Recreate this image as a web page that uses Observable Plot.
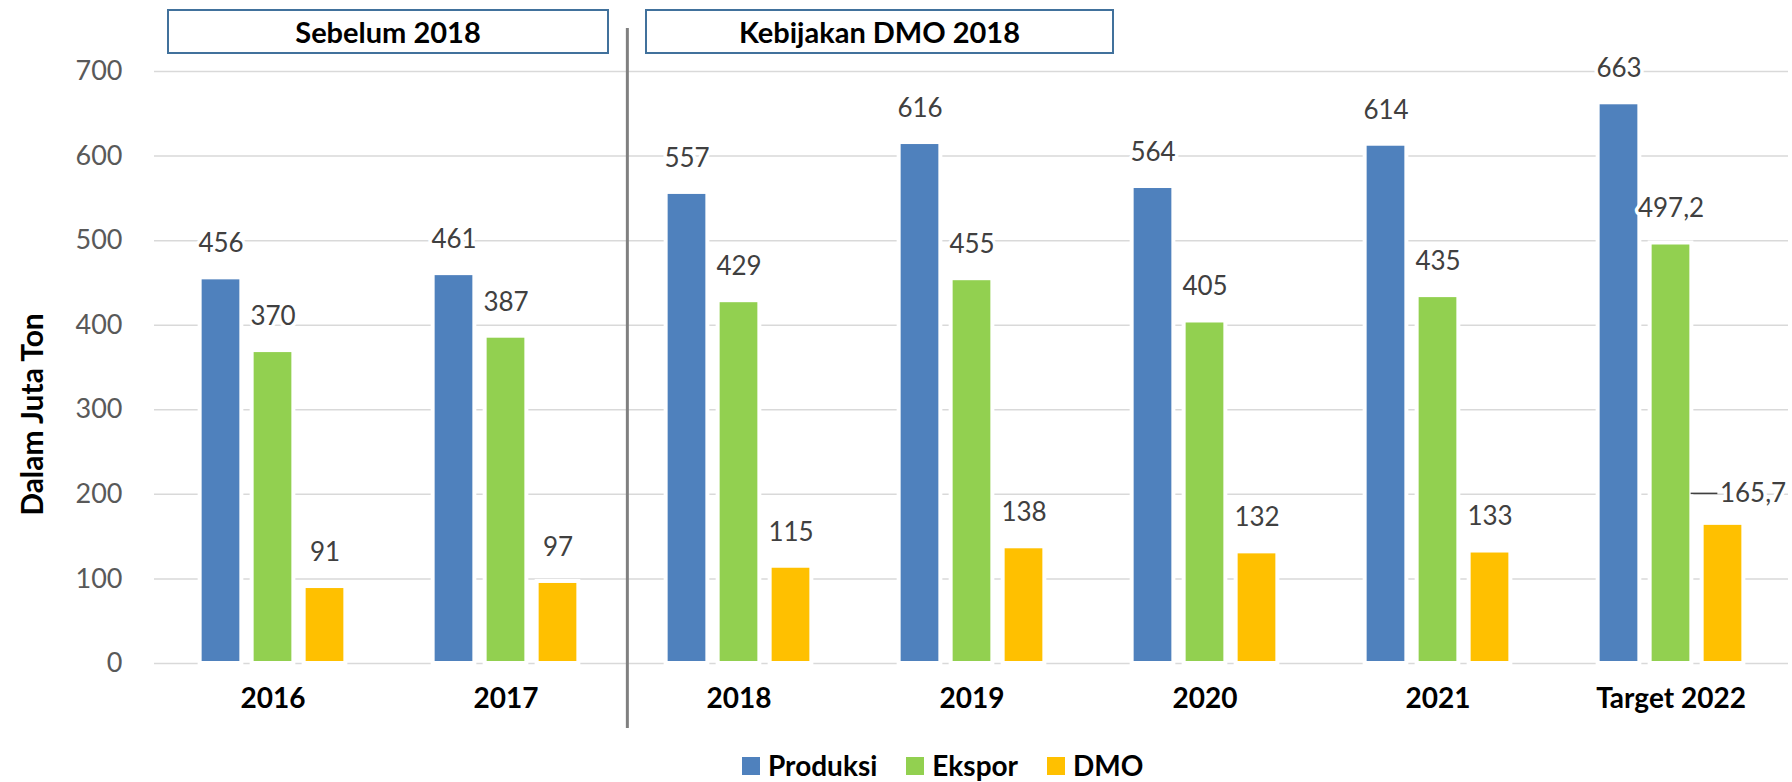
<!DOCTYPE html>
<html>
<head>
<meta charset="utf-8">
<script src="https://cdn.jsdelivr.net/npm/d3@7"></script>
<script src="https://cdn.jsdelivr.net/npm/@observablehq/plot@0.6"></script>
<style>
  html, body { margin: 0; padding: 0; background: #fff; }
  #wrap { position: relative; width: 1792px; height: 782px; font-family: Lato, "Open Sans", sans-serif; overflow: hidden; }
  .box { position: absolute; top: 9px; height: 41px; border: 2px solid #41719C; background: #fff;
         display: flex; align-items: center; justify-content: center; font-weight: bold; font-size: 29px; color: #000; }
  #chart { position: absolute; left: 0; top: 0; }
  #legend { position: absolute; left: 742px; top: 750px; display: flex; align-items: center; height: 31px;
            font-weight: bold; font-size: 28px; line-height: 31px; color: #000; }
  #legend .item { display: flex; align-items: center; margin-right: 29px; }
  #legend .sw { width: 18px; height: 18px; margin-right: 8px; }
</style>
</head>
<body>
<div id="wrap">
  <div id="chart"></div>
  <div class="box" style="left:167px;width:438px;">Sebelum 2018</div>
  <div class="box" style="left:645px;width:465px;">Kebijakan DMO 2018</div>
  <div id="legend"></div>
</div>
<script>
const categories = ["2016", "2017", "2018", "2019", "2020", "2021", "Target 2022"];
const produksi = [456, 461, 557, 616, 564, 614, 663];
const ekspor = [370, 387, 429, 455, 405, 435, 497.2];
const dmo = [91, 97, 115, 138, 132, 133, 165.7];
const seriesNames = ["Produksi", "Ekspor", "DMO"];
const seriesColors = ["#4F81BD", "#92D050", "#FFC000"];
const yTicks = [0, 100, 200, 300, 400, 500, 600, 700];
const yTitle = "Dalam Juta Ton";

const table = categories.map((c, i) => ({cat: c, Produksi: produksi[i], Ekspor: ekspor[i], DMO: dmo[i]}));
const fmt = v => String(v).replace(".", ",");

const W = 1792, H = 735, ML = 155, MR = 4, MT = 71, MB = 72;
const step = (W - ML - MR) / categories.length;
const barW = 42, spacing = 52;
const inset = (step - barW) / 2;

const marks = [
  Plot.ruleY(yTicks, {stroke: "#D9D9D9", strokeWidth: 1.5, insetLeft: -1})
];
seriesNames.forEach((s, i) => {
  marks.push(Plot.barY(table, {x: "cat", y: s, fill: seriesColors[i], stroke: "#fff", strokeWidth: 4,
    dx: (i - 1) * spacing, insetLeft: inset, insetRight: inset}));
});
seriesNames.forEach((s, i) => {
  const rows = s === "DMO" ? table.filter(d => d.cat !== "Target 2022") : table;
  marks.push(Plot.text(rows, {x: "cat", y: s, text: d => fmt(d[s]), dx: (i - 1) * spacing, dy: -34,
    fontSize: 26, fill: "#404040", stroke: "#fff", strokeWidth: 7, paintOrder: "stroke"}));
});
const special = table.filter(d => d.cat === "Target 2022");
marks.push(Plot.text(special, {x: "cat", y: "DMO", text: d => fmt(d.DMO), dx: spacing + 30, dy: -30,
  fontSize: 26, fill: "#404040", stroke: "#fff", strokeWidth: 7, paintOrder: "stroke"}));
marks.push(Plot.tickY(special, {x: "cat", y: "DMO", dy: -30, stroke: "#404040", strokeWidth: 1.5,
  insetLeft: step / 2 + 20, insetRight: step / 2 - 47}));
marks.push(Plot.ruleX(["2018"], {x: d => d, dx: -step / 2 + 5, stroke: "#808080", strokeWidth: 3,
  insetTop: -43, insetBottom: -65}));
marks.push(Plot.axisY({ticks: yTicks, tickSize: 0, tickPadding: 33, fontSize: 27, fill: "#595959", label: null}));
marks.push(Plot.axisX({tickSize: 0, tickPadding: 25, fontSize: 28, fontWeight: "bold", fill: "#000", label: null}));
marks.push(Plot.text([yTitle], {frameAnchor: "left", textAnchor: "middle", lineAnchor: "middle", rotate: -90,
  dx: -122, dy: 47, fontSize: 30, fontWeight: "bold", fill: "#000"}));

const plot = Plot.plot({
  width: W, height: H,
  marginLeft: ML, marginRight: MR, marginTop: MT, marginBottom: MB,
  style: {fontFamily: "Lato, 'Open Sans', sans-serif", color: "#000", background: "transparent", overflow: "visible"},
  x: {domain: categories, padding: 0, axis: null},
  y: {domain: [0, 700], axis: null},
  marks
});
document.getElementById("chart").appendChild(plot);

const legend = document.getElementById("legend");
seriesNames.forEach((s, i) => {
  const it = document.createElement("div");
  it.className = "item";
  it.innerHTML = `<div class="sw" style="background:${seriesColors[i]}"></div><span>${s}</span>`;
  legend.appendChild(it);
});
</script>
</body>
</html>
